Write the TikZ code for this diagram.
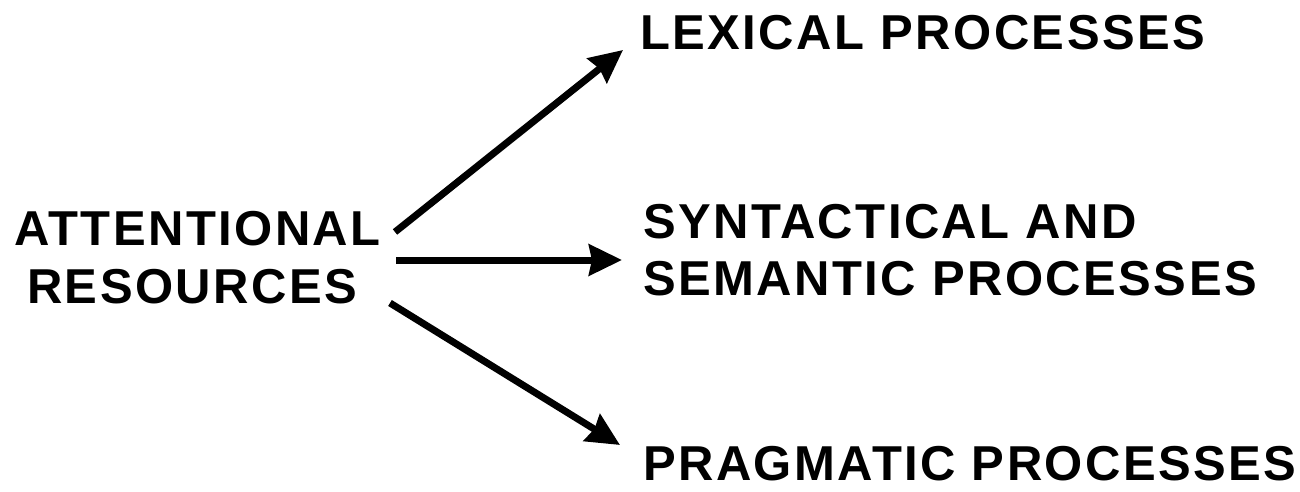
\documentclass[tikz,border=0pt]{standalone}
\usepackage{fontspec}
\newfontfamily\lab[LetterSpace=5]{Liberation Sans}
\usetikzlibrary{arrows.meta}
\begin{document}
\begin{tikzpicture}[x=1pt,y=-1pt,
  lbl/.style={anchor=base west,inner sep=0pt,font=\lab\bfseries\fontsize{49}{58}\selectfont},
  conn/.style={line width=7pt,-{Stealth[length=33pt,width=31pt,inset=3pt]}}]
\useasboundingbox[fill=white] (0,0) rectangle (1300,492);
\node[lbl] (att) at (14,245) {ATTENTIONAL};
\node[lbl] (res) at (27,303) {RESOURCES};
\node[lbl] (lex) at (640,50) {LEXICAL PROCESSES};
\node[lbl] (syn) at (643,238) {SYNTACTICAL AND};
\node[lbl] (sem) at (643,295) {SEMANTIC PROCESSES};
\node[lbl] (pra) at (643,480) {PRAGMATIC PROCESSES};
\coordinate (a1) at (395,232);
\coordinate (a2) at (396,260);
\coordinate (a3) at (390,303);
\coordinate (t1) at (623,50);
\coordinate (t2) at (622,260);
\coordinate (t3) at (620,445);
\draw[conn] (a1) -- (t1);
\draw[conn] (a2) -- (t2);
\draw[conn] (a3) -- (t3);
\end{tikzpicture}
\end{document}
